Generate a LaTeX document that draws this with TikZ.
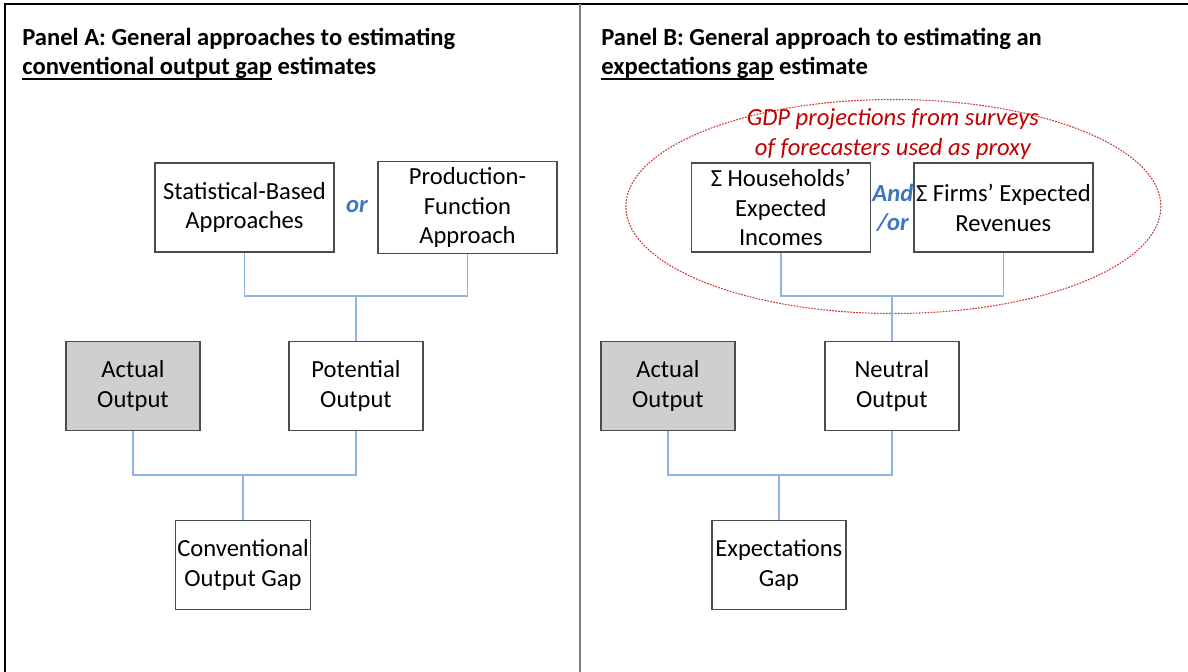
\documentclass[tikz,border=0pt]{standalone}
\usepackage{fontspec}
\setmainfont{Carlito}
\usepackage{xcolor}
\usepackage{tikz}

\definecolor{linkblue}{RGB}{141,180,226}
\definecolor{joinblue}{RGB}{62,118,194}
\definecolor{givengray}{RGB}{208,206,206}
\definecolor{proxyred}{RGB}{192,0,0}

\newcommand{\boxfont}{\fontsize{14}{17}\selectfont}
% thicker underline than \underline gives
\newcommand{\heavyul}[1]{\setbox0\hbox{#1}\rlap{\rule[-2.6pt]{\wd0}{1pt}}\box0\relax}

\tikzset{
  box/.style={draw=black!70, line width=0.8pt, fill=white, align=center,
    minimum width=2.68cm, minimum height=1.78cm, inner xsep=1pt, font=\boxfont},
  wide/.style={minimum width=3.58cm},
  given/.style={fill=givengray},
  link/.style={draw=linkblue, line width=0.8pt},
  joiner/.style={align=center, text=joinblue, font=\boxfont\bfseries\itshape},
  title/.style={anchor=base west, align=left, inner sep=0pt, font=\boxfont\bfseries},
  proxy/.style={draw=proxyred!80, line width=0.6pt, dash pattern=on 1pt off 0.7pt},
}

\begin{document}
\begin{tikzpicture}[x=0.02cm, y=-0.02cm]
\useasboundingbox (0,0) rectangle (1188,672);

% frame and divider
\draw[line width=0.8pt] (5,672)--(5,4)--(1188,4);
\draw[line width=1pt, gray] (580,4)--(580,672);

% base anchor sits on the second line
\node[title] (titleA) at (22,75) {Panel A: General approaches to estimating\\\heavyul{conventional output gap} estimates};
\node[title] (titleB) at (601,75) {Panel B: General approach to estimating an\\\heavyul{expectations gap} estimate};

% panel A
\node[box, wide] (stat) at (244.5,207.5) {Statistical-Based\\Approaches};
\node[box, wide] (prod) at (467.5,207.5) {Production-\\Function\\Approach};
\node[joiner] (or) at (357,207) {or};

\node[box, given] (actA) at (133,386) {Actual\\Output};
\node[box] (pot) at (356,386) {Potential\\Output};
\node[box] (gapA) at (243,565) {Conventional\\Output Gap};

\coordinate (upA) at (356,296);
\coordinate (lowA) at (243,475);
\draw[link] (stat.south) |- (upA) -| (prod.south);
\draw[link] (upA) -- (pot.north);
\draw[link] (actA.south) |- (lowA) -| (pot.south);
\draw[link] (lowA) -- (gapA.north);

% panel B
\begin{scope}[xshift=10.72cm]

\draw[proxy] (357.5,206.5) ellipse [x radius=267.5, y radius=107];
\node[align=center, text=proxyred, font=\boxfont\itshape] (proxytxt) at (357,134) {GDP projections from surveys\\of forecasters used as proxy};

\node[box, wide] (hh) at (245,207.5) {Σ Households’\\Expected\\Incomes};
\node[box, wide] (firm) at (467.5,207.5) {Σ Firms’ Expected\\Revenues};
\node[joiner, inner sep=0pt] (andor) at (357,208) {And\\/or};

\node[box, given] (actB) at (132,386) {Actual\\Output};
\node[box] (neu) at (356,386) {Neutral\\Output};
\node[box] (gapB) at (243,565) {Expectations\\Gap};

\coordinate (upB) at (356,296);
\coordinate (lowB) at (243,475);
\draw[link] (hh.south) |- (upB) -| (firm.south);
\draw[link] (upB) -- (neu.north);
\draw[link] (actB.south) |- (lowB) -| (neu.south);
\draw[link] (lowB) -- (gapB.north);

\end{scope}
\end{tikzpicture}
\end{document}
